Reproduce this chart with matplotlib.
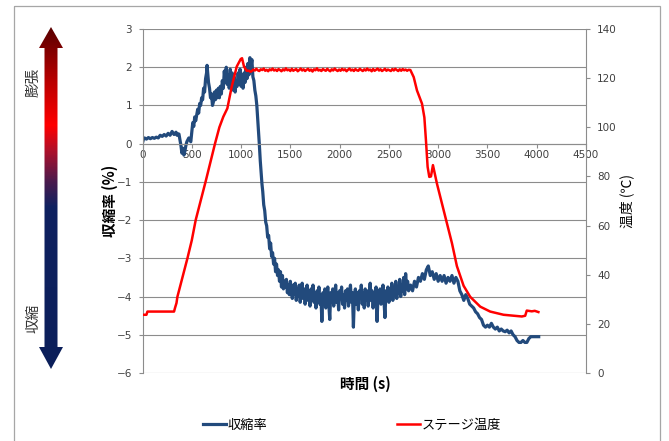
import numpy as np
import matplotlib
matplotlib.use("Agg")
import matplotlib.pyplot as plt
from matplotlib.patches import Polygon, Rectangle
from matplotlib.colors import LinearSegmentedColormap

plt.rcParams['font.family'] = ['Noto Sans CJK JP', 'DejaVu Sans']

# ---------------- data ----------------
# 収縮率 (%) : early stage (0 - 440 s)
shrink_t_early = [0, 10, 20, 40, 60, 80, 100, 120, 140, 160, 180, 200, 220, 240, 260, 280, 300, 320, 340, 350,
                  360, 370, 380, 390, 400, 410, 420, 430, 440]
shrink_v_early = [0.02, 0.12, 0.15, 0.12, 0.16, 0.13, 0.16, 0.14, 0.17, 0.15, 0.22, 0.19, 0.24, 0.20, 0.27, 0.22,
                  0.32, 0.24, 0.30, 0.22, 0.26, 0.25, 0.10, -0.05, -0.25, -0.12, -0.30, -0.20, -0.05]
# expansion stage and collapse (450 - 1430 s)
shrink_t_rise = [450, 470, 490, 500, 510, 520, 530, 540, 550, 560, 570, 580, 590, 600, 610, 620, 630, 640, 650,
                 655, 662, 670, 680, 690, 700, 710, 720, 730, 740, 750, 760, 770, 780, 790, 800, 810, 820, 830,
                 840, 850, 860, 870, 880, 890, 900, 910, 920, 930, 940, 950, 960, 970, 980, 990, 1000, 1010, 1020,
                 1030, 1040, 1050, 1060, 1070, 1080, 1090, 1100, 1110, 1120, 1130, 1140, 1150, 1160, 1170, 1185,
                 1195, 1205, 1212, 1220, 1230, 1240, 1250, 1260, 1270, 1280, 1290, 1300, 1310, 1320, 1330, 1340,
                 1350, 1360, 1370, 1380, 1390, 1400, 1410, 1420, 1430]
shrink_v_rise = [0.05, 0.15, 0.05, 0.30, 0.55, 0.45, 0.70, 0.60, 0.75, 0.90, 0.80, 1.05, 1.00, 1.20, 1.15, 1.45,
                 1.35, 1.70, 1.85, 2.05, 1.85, 1.60, 1.45, 1.20, 1.30, 1.00, 1.10, 1.35, 1.15, 1.40, 1.20, 1.45,
                 1.20, 1.50, 1.30, 1.65, 1.45, 1.90, 1.60, 2.00, 1.55, 1.80, 1.45, 1.95, 1.60, 1.85, 1.40, 1.75,
                 1.35, 1.65, 1.50, 1.85, 1.60, 1.95, 1.50, 1.75, 1.45, 1.85, 1.60, 2.00, 1.70, 2.10, 1.80, 2.25,
                 2.00, 2.20, 1.75, 1.65, 1.40, 1.25, 1.00, 0.60, 0.00, -0.45, -0.80, -1.05, -1.25, -1.60, -1.75,
                 -2.05, -2.15, -2.45, -2.40, -2.75, -2.60, -2.95, -2.85, -3.15, -3.00, -3.35, -3.15, -3.45, -3.30,
                 -3.60, -3.35, -3.75, -3.45, -3.80]
# holding stage, noisy plateau (1440 - 2700 s, every 10 s)
shrink_t_hold = list(range(1440, 2701, 10))
shrink_v_hold = [-3.60, -3.75, -3.55, -3.90, -3.70, -3.95, -3.60, -3.85, -4.05, -3.70,
                 -3.95, -3.65, -4.10, -3.80, -4.00, -3.70, -4.15, -3.85, -3.65, -4.05,
                 -3.80, -4.20, -3.90, -3.70, -4.10, -3.85, -4.25, -3.80, -4.00, -3.70,
                 -4.15, -3.90, -4.30, -3.85, -4.05, -3.75, -4.20, -3.95, -4.65, -3.90,
                 -4.10, -3.80, -4.30, -4.00, -3.75, -4.20, -4.60, -3.90, -4.10, -3.80,
                 -4.25, -3.95, -3.70, -4.15, -3.90, -4.35, -3.85, -4.05, -3.75, -4.20,
                 -3.95, -4.30, -3.85, -4.10, -3.80, -4.25, -3.95, -3.70, -4.15, -3.90,
                 -4.80, -4.00, -3.80, -4.20, -3.90, -4.35, -3.85, -4.05, -3.70, -4.20,
                 -3.90, -4.30, -3.80, -4.10, -3.85, -4.25, -3.95, -3.65, -4.10, -3.85,
                 -4.30, -3.90, -4.05, -3.75, -4.65, -3.95, -4.15, -3.80, -4.20, -3.90,
                 -3.70, -4.10, -4.55, -3.85, -4.05, -3.75, -4.15, -3.85, -4.00, -3.65,
                 -4.10, -3.80, -3.95, -3.60, -4.05, -3.75, -3.90, -3.55, -4.00, -3.70,
                 -3.85, -3.50, -3.95, -3.40, -3.80, -3.60, -3.85]
# cooling stage (2720 - 4020 s, every 20 s)
shrink_t_cool = list(range(2720, 4021, 20))
shrink_v_cool = [-3.70, -3.85, -3.60, -3.75, -3.50, -3.60, -3.40, -3.55, -3.30, -3.20, -3.45, -3.35, -3.55, -3.40,
                 -3.60, -3.45, -3.60, -3.45, -3.65, -3.50, -3.60, -3.45, -3.65, -3.50, -3.60, -3.85, -3.95, -4.10,
                 -3.95, -4.05, -4.20, -4.25, -4.30, -4.40, -4.45, -4.55, -4.60, -4.75, -4.80, -4.75, -4.80, -4.70,
                 -4.80, -4.85, -4.80, -4.90, -4.85, -4.90, -4.92, -4.88, -4.95, -4.90, -5.00, -5.05, -5.15, -5.20,
                 -5.20, -5.15, -5.20, -5.20, -5.10, -5.05, -5.05, -5.05, -5.05, -5.05]

# ステージ温度 (℃)
temp_t_heat = [0, 40, 50, 320, 330, 345, 354, 380, 420, 456, 500, 540, 590, 641, 690, 736, 780, 820, 861, 905,
               956, 997, 1010, 1030, 1057]
temp_v_heat = [23.7, 23.7, 25.0, 25.0, 26.5, 28.5, 31.0, 35.0, 41.0, 46.7, 54.0, 62.3, 70.0, 78.0, 86.0, 93.4,
               100.0, 104.3, 107.7, 116.5, 124.7, 127.8, 128.1, 124.7, 123.0]
temp_t_hold = list(range(1080, 2701, 15))
temp_v_hold = [123.0, 122.6, 122.9, 123.5, 123.1, 123.8, 123.2, 122.9, 123.6, 123.3, 123.9, 123.0, 123.4, 122.8,
               123.6, 123.2, 123.9, 123.1, 123.5, 122.9, 123.7, 123.3, 122.8, 123.6, 123.1, 124.0, 123.2, 123.5,
               122.9, 123.8, 123.0, 123.4, 123.7, 122.8, 123.3, 123.9, 123.1, 123.6, 122.9, 123.4, 123.8, 123.0,
               123.5, 122.7, 123.6, 123.2, 124.0, 123.1, 123.4, 122.9, 123.7, 123.3, 123.0, 123.8, 123.2, 122.8,
               123.6, 123.1, 123.9, 123.3, 122.9, 123.5, 123.0, 123.8, 123.2, 123.6, 122.8, 123.4, 123.9, 123.1,
               123.5, 122.9, 123.7, 123.2, 123.0, 123.8, 123.3, 122.9, 123.6, 123.1, 123.9, 123.2, 123.5, 122.8,
               123.7, 123.0, 123.4, 123.9, 123.1, 123.6, 122.9, 123.3, 123.8, 123.0, 123.5, 123.2, 122.9, 123.7,
               123.1, 123.8, 123.3, 122.9, 123.6, 123.0, 123.7, 123.2, 123.5, 123.0, 123.4]
temp_t_cool = [2718, 2752, 2785, 2836, 2860, 2876, 2893, 2910, 2927, 2947, 2961, 2988, 3038, 3089, 3140, 3190,
               3258, 3325, 3427, 3528, 3663, 3849, 3883, 3899, 3950, 3980, 4017]
temp_v_cool = [123.3, 120.4, 115.0, 109.6, 104.0, 94.7, 83.9, 79.8, 80.0, 84.6, 82.0, 77.0, 69.0, 60.9, 52.8, 43.5,
               35.5, 31.0, 27.0, 25.0, 23.7, 23.0, 23.3, 25.4, 25.1, 25.3, 24.8]

x_ticks = [0, 500, 1000, 1500, 2000, 2500, 3000, 3500, 4000, 4500]
y_left_ticks = [-6, -5, -4, -3, -2, -1, 0, 1, 2, 3]
y_right_ticks = [0, 20, 40, 60, 80, 100, 120, 140]

series_names = ['収縮率', 'ステージ温度']
x_label = '時間 (s)'
y_left_label = '収縮率 (%)'
y_right_label = '温度 (℃)'
arrow_top_text = '膨張'
arrow_bottom_text = '収縮'

shrink_t = shrink_t_early + shrink_t_rise + shrink_t_hold + shrink_t_cool
shrink_v = shrink_v_early + shrink_v_rise + shrink_v_hold + shrink_v_cool
temp_t = temp_t_heat + temp_t_hold + temp_t_cool
temp_v = temp_v_heat + temp_v_hold + temp_v_cool

# ---------------- figure ----------------
W, H = 669, 441
fig = plt.figure(figsize=(W / 100, H / 100), dpi=100)

# background / decoration layer in pixel coordinates
bg = fig.add_axes([0, 0, 1, 1])
bg.set_xlim(0, W)
bg.set_ylim(H, 0)
bg.axis('off')
bg.set_zorder(-1)
bg.add_patch(Rectangle((14, 6), 646, 500, fill=False, edgecolor='#a6a6a6', lw=0.9))

# gradient double arrow
arrow_pts = [(51, 27), (63, 48), (57.5, 48), (57.5, 347), (63, 347), (51, 369), (39, 347), (44.5, 347),
             (44.5, 48), (39, 48)]
arrow_poly = Polygon(arrow_pts, closed=True, facecolor='none', edgecolor='none')
bg.add_patch(arrow_poly)
stops = [(0.0, '#5a0000'), ((80 - 27) / 342, '#b80000'), ((125 - 27) / 342, '#ff0000'),
         ((150 - 27) / 342, '#b0102a'), ((180 - 27) / 342, '#4e1a4c'), ((207 - 27) / 342, '#0f2160'),
         (1.0, '#0b1f5a')]
cmap = LinearSegmentedColormap.from_list('arr', stops)
grad = np.linspace(0, 1, 400).reshape(-1, 1)
im = bg.imshow(grad, cmap=cmap, extent=(35, 67, 369, 27), origin='upper', aspect='auto',
               interpolation='bilinear')
im.set_clip_path(arrow_poly)
bg.set_xlim(0, W)
bg.set_ylim(H, 0)
bg.text(33, 82, arrow_top_text, rotation=90, ha='center', va='center', fontsize=10.5, color='#333333')
bg.text(33, 318, arrow_bottom_text, rotation=90, ha='center', va='center', fontsize=10.5, color='#333333')

# axis titles
bg.text(110, 201, y_left_label, rotation=90, ha='center', va='center', fontsize=10.5,
        fontweight='bold', color='#000000')
bg.text(365, 384, x_label, ha='center', va='center', fontsize=10.5, fontweight='bold', color='#000000')
bg.text(627, 201, y_right_label, rotation=90, ha='center', va='center', fontsize=10, color='#000000')

# main axes
L, R, T, B = 142.5, 586, 29, 373
ax = fig.add_axes([L / W, 1 - B / H, (R - L) / W, (B - T) / H])
ax.set_xlim(0, 4500)
ax.set_ylim(-6, 3)
ax.set_xticks(x_ticks)
ax.set_yticks(y_left_ticks)
grid_c = '#8c8c8c'
ax.grid(axis='y', color=grid_c, lw=0.8)
ax.set_axisbelow(True)
for s in ['top', 'right']:
    ax.spines[s].set_visible(False)
ax.spines['left'].set_color(grid_c)
ax.spines['left'].set_linewidth(0.8)
ax.spines['bottom'].set_position(('data', 0))
ax.spines['bottom'].set_color(grid_c)
ax.spines['bottom'].set_linewidth(0.8)
ax.tick_params(axis='y', direction='out', length=3, width=0.8, color=grid_c, pad=4.5,
               labelsize=7.5, labelcolor='#404040')
ax.tick_params(axis='x', direction='out', length=3, width=0.8, color=grid_c, pad=1.5,
               labelsize=7.5, labelcolor='#404040')
for lab in ax.get_yticklabels() + ax.get_xticklabels():
    lab.set_fontfamily(['DejaVu Sans'])

l1, = ax.plot(shrink_t, shrink_v, color='#224a7c', lw=2.3, solid_joinstyle='round', label=series_names[0])

ax2 = ax.twinx()
ax2.set_ylim(0, 140)
ax2.set_yticks(y_right_ticks)
for s in ['top', 'left', 'bottom']:
    ax2.spines[s].set_visible(False)
ax2.spines['right'].set_color(grid_c)
ax2.spines['right'].set_linewidth(0.8)
ax2.tick_params(axis='y', direction='out', length=3, width=0.8, color=grid_c, pad=5,
                labelsize=7.5, labelcolor='#404040')
for lab in ax2.get_yticklabels():
    lab.set_fontfamily(['DejaVu Sans'])
l2, = ax2.plot(temp_t, temp_v, color='#ff0000', lw=1.8, solid_joinstyle='round', label=series_names[1])

fig.legend(handles=[l1, l2], loc='center', bbox_to_anchor=(352 / W, 1 - 425 / H), ncol=2, frameon=False,
           fontsize=9.5, handlelength=1.75, handletextpad=0.1, columnspacing=9.8, borderpad=0)

fig.savefig('out.png', dpi=100)
